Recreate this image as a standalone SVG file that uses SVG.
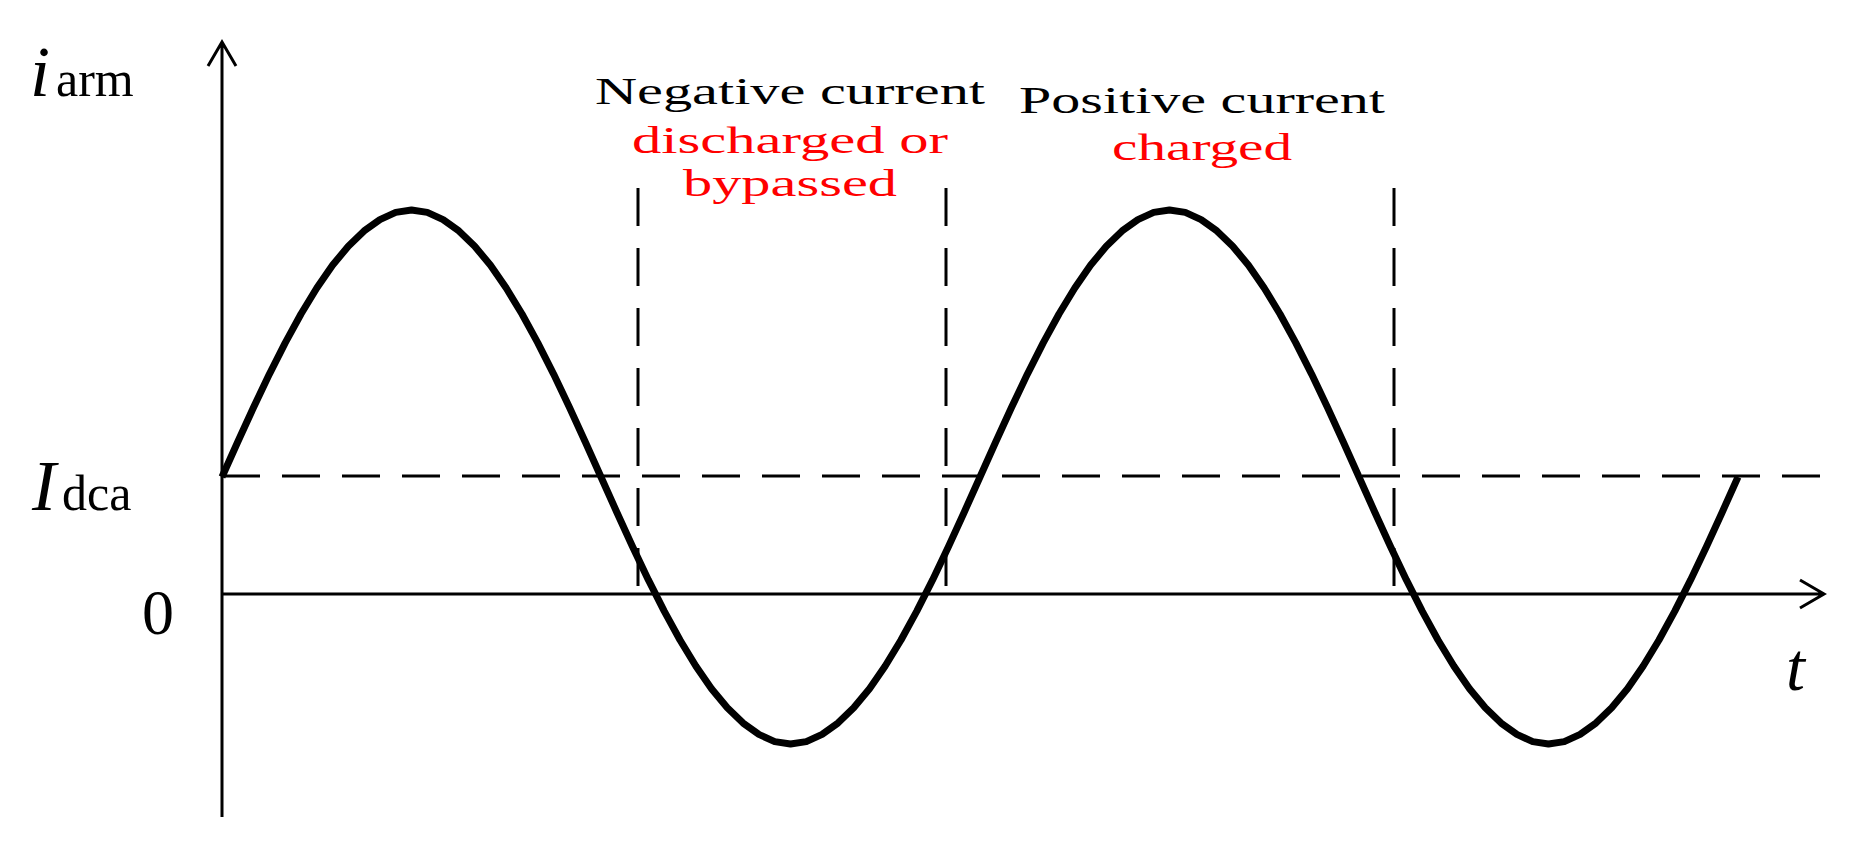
<svg xmlns="http://www.w3.org/2000/svg" width="1863" height="860" viewBox="0 0 1863 860">
<style>
.ax{stroke:#000;stroke-width:3;fill:none}
.dash{stroke:#000;stroke-width:3;fill:none;stroke-dasharray:38,22}
.t{font-family:"Liberation Serif",serif;font-size:38px;fill:#000;text-anchor:middle}
.r{fill:#ff0000}
.lab{font-family:"Liberation Serif",serif;fill:#000}
</style>
<rect width="1863" height="860" fill="#fff"/>
<g id="connectors">
<path class="ax" d="M222 817V44M208 66L222 42L236 66"/>
<path class="ax" d="M222 594H1822M1800 580L1824 594L1800 608"/>
<path class="dash" d="M222 476H1822"/>
<path class="dash" d="M638 188V594M946 188V594M1394 188V594"/>
</g>
<g id="sinewave"><path fill="none" stroke="#000" stroke-width="7" stroke-linejoin="round" d="M222.0 477.0 L237.8 441.8 L253.6 407.3 L269.4 374.1 L285.2 342.9 L301.0 314.0 L316.8 288.0 L332.5 265.3 L348.3 246.2 L364.1 230.9 L379.9 219.6 L395.7 212.4 L411.5 210.0 L427.3 212.4 L443.1 219.6 L458.9 230.9 L474.7 246.2 L490.5 265.3 L506.2 288.0 L522.0 314.0 L537.8 342.9 L553.6 374.1 L569.4 407.3 L585.2 441.8 L601.0 477.0 L616.8 512.2 L632.6 546.7 L648.4 579.9 L664.2 611.1 L680.0 640.0 L695.8 666.0 L711.5 688.7 L727.3 707.8 L743.1 723.1 L758.9 734.4 L774.7 741.6 L790.5 744.0 L806.3 741.6 L822.1 734.4 L837.9 723.1 L853.7 707.8 L869.5 688.7 L885.2 666.0 L901.0 640.0 L916.8 611.1 L932.6 579.9 L948.4 546.7 L964.2 512.2 L980.0 477.0 L995.8 441.8 L1011.6 407.3 L1027.4 374.1 L1043.2 342.9 L1059.0 314.0 L1074.8 288.0 L1090.5 265.3 L1106.3 246.2 L1122.1 230.9 L1137.9 219.6 L1153.7 212.4 L1169.5 210.0 L1185.3 212.4 L1201.1 219.6 L1216.9 230.9 L1232.7 246.2 L1248.5 265.3 L1264.2 288.0 L1280.0 314.0 L1295.8 342.9 L1311.6 374.1 L1327.4 407.3 L1343.2 441.8 L1359.0 477.0 L1374.8 512.2 L1390.6 546.7 L1406.4 579.9 L1422.2 611.1 L1438.0 640.0 L1453.8 666.0 L1469.5 688.7 L1485.3 707.8 L1501.1 723.1 L1516.9 734.4 L1532.7 741.6 L1548.5 744.0 L1564.3 741.6 L1580.1 734.4 L1595.9 723.1 L1611.7 707.8 L1627.5 688.7 L1643.2 666.0 L1659.0 640.0 L1674.8 611.1 L1690.6 579.9 L1706.4 546.7 L1722.2 512.2 L1738.0 477.0"/></g>
<g id="labels">
<text class="lab" x="30" y="96" font-size="72" font-style="italic">i</text><text class="lab" x="56" y="96" font-size="50">arm</text>
<text class="lab" x="32" y="510" font-size="72" font-style="italic">I</text><text class="lab" x="62" y="510" font-size="50">dca</text>
<text class="lab" x="142" y="634" font-size="64">0</text>
<text class="lab" x="1786" y="690" font-size="68" font-style="italic">t</text>
</g>
<g id="neg">
<text class="t" x="790" y="104" textLength="390" lengthAdjust="spacingAndGlyphs">Negative current</text>
<text class="t r" x="790" y="153" textLength="316" lengthAdjust="spacingAndGlyphs">discharged or</text>
<text class="t r" x="790" y="196" textLength="214" lengthAdjust="spacingAndGlyphs">bypassed</text>
</g>
<g id="pos">
<text class="t" x="1202" y="113" textLength="366" lengthAdjust="spacingAndGlyphs">Positive current</text>
<text class="t r" x="1202" y="160" textLength="180" lengthAdjust="spacingAndGlyphs">charged</text>
</g>
</svg>
